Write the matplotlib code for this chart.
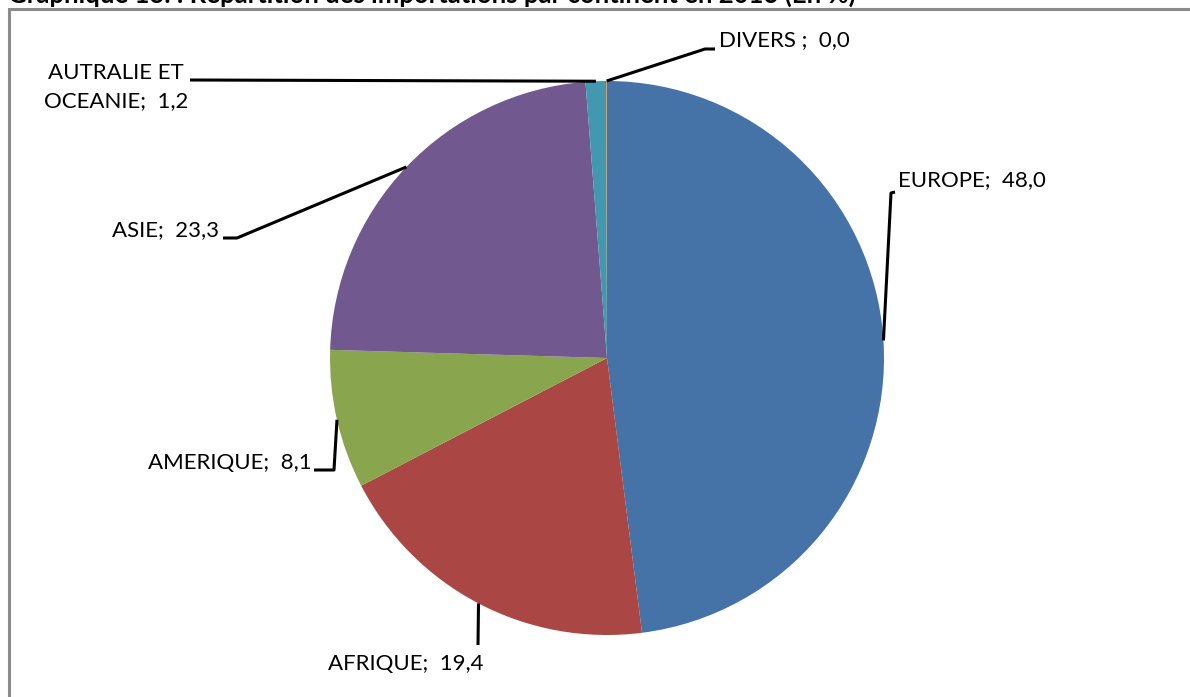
import numpy as np
import matplotlib.pyplot as plt
from matplotlib.patches import Rectangle

# parts of imports by continent, 2016 (%)
continents = ['EUROPE', 'AFRIQUE', 'AMERIQUE', 'ASIE', 'AUTRALIE ET\nOCEANIE', 'DIVERS ']
values = [48.0, 19.4, 8.1, 23.3, 1.2, 0.04]
colors = ['#4572A7', '#AA4643', '#89A54E', '#71588F', '#4198AF', '#DB843D']
title = 'Graphique 13. : Répartition des importations par continent en 2016 (En %)'

W, H = 1190, 697
plt.rcParams['font.family'] = ['Lato', 'DejaVu Sans']

fig = plt.figure(figsize=(W / 100, H / 100), dpi=100)
ax = fig.add_axes([0, 0, 1, 1])

def py(y):
    # pixel row -> data y
    return H - y

cx, cy, r = 607, py(358), 277

wedges, _ = ax.pie(values, colors=colors, startangle=90, counterclock=False,
                   center=(cx, cy), radius=r, frame=True,
                   wedgeprops=dict(edgecolor='none'))
ax.set_xlim(0, W)
ax.set_ylim(0, H)
ax.set_aspect('equal')
ax.axis('off')

# frame and cut title
ax.add_patch(Rectangle((9, -10), W + 20, py(9) + 10, fill=False, edgecolor='#8c8c8c', lw=2.2))
ax.text(8, py(2.5), title, fontsize=18.5, fontweight='bold', ha='left', va='baseline')

# label layout: (elbow points in pixels, text pos, ha)
layout = [
    ([(891, 193), (895, 192)], (898, 180), 'left'),
    ([(478, 645)], (406, 664), 'center'),
    ([(334, 470), (314, 470)], (312, 463), 'right'),
    ([(237, 238), (223, 238)], (219, 230), 'right'),
    ([(190, 80)], (116, 87), 'center'),
    ([(705, 49), (715, 49)], (719, 40), 'left'),
]

for w, name, val, (pts, tpos, ha) in zip(wedges, continents, values, layout):
    ang = np.deg2rad((w.theta1 + w.theta2) / 2)
    x0 = cx + r * np.cos(ang)
    y0 = cy + r * np.sin(ang)
    xs = [x0] + [p[0] for p in pts]
    ys = [y0] + [py(p[1]) for p in pts]
    ax.plot(xs, ys, color='black', lw=2.2, solid_capstyle='butt')
    lbl = '{};  {}'.format(name, ('%.1f' % val).replace('.', ','))
    ax.text(tpos[0], py(tpos[1]), lbl, fontsize=16, ha=ha, va='center',
            multialignment='center', linespacing=1.45)

fig.savefig('out.png', dpi=100)
